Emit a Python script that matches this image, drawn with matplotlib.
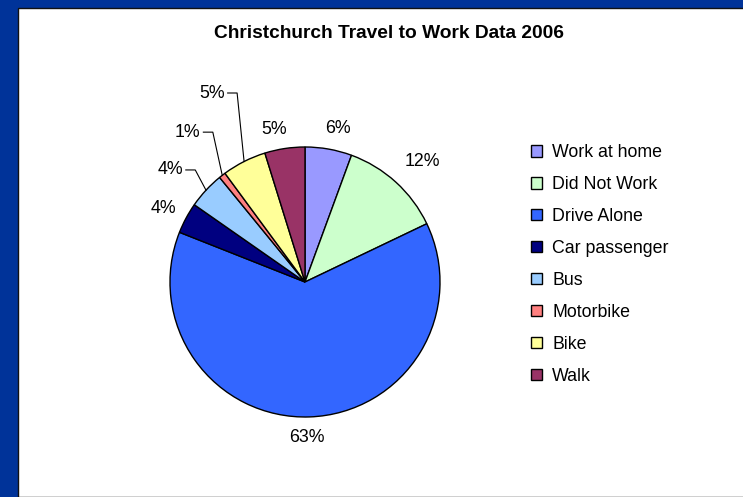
import matplotlib
matplotlib.use("Agg")
import matplotlib.pyplot as plt
from matplotlib.patches import Rectangle
import numpy as np

plt.rcParams["font.family"] = ["Liberation Sans", "DejaVu Sans"]

# data (percent of commuters)
categories = ["Work at home", "Did Not Work", "Drive Alone", "Car passenger",
              "Bus", "Motorbike", "Bike", "Walk"]
shares = [5.6, 12.3, 63.1, 3.7, 4.4, 0.8, 5.3, 4.8]
colors = ["#9999FF", "#CCFFCC", "#3366FF", "#000080",
          "#99CCFF", "#FF8080", "#FFFF99", "#993366"]
title = "Christchurch Travel to Work Data 2006"

# label placement, in pie radii from the centre (x, y); leader lines for the thin ones
label_pos = [(0.245, 1.14), (0.87, 0.89), (0.015, -1.15), (-1.048, 0.548),
             (-1.0, 0.83), (-0.87, 1.11), (-0.69, 1.40), (-0.226, 1.133)]
leader = [False, False, False, False, True, True, True, False]

W, H = 743, 497
R = 135.0          # pie radius, px
CX, CY = 305, 282  # pie centre, px from top-left
LIM = 1.5

fig = plt.figure(figsize=(W / 100, H / 100), dpi=100)
fig.patch.set_facecolor("#003399")
fig.patches.append(Rectangle((18 / W, 0), 1, 1 - 8 / H, transform=fig.transFigure,
                             facecolor="white", edgecolor="#111111", linewidth=1.0,
                             zorder=-5))

half = LIM * R
ax = fig.add_axes([(CX - half) / W, (H - CY - half) / H, 2 * half / W, 2 * half / H])
ax.set_zorder(2)

wedges, _ = ax.pie(shares, colors=colors, startangle=90, counterclock=False,
                   radius=1.0, wedgeprops=dict(edgecolor="black", linewidth=1.0))
ax.set_xlim(-LIM, LIM)
ax.set_ylim(-LIM, LIM)
ax.set_aspect("equal")
ax.axis("off")

fig.canvas.draw()
renderer = fig.canvas.get_renderer()
inv = ax.transData.inverted()
for w, val, (lx, ly), lead in zip(wedges, shares, label_pos, leader):
    t = ax.text(lx, ly, f"{val:.0f}%", ha="center", va="center", fontsize=12.8,
                color="black")
    if lead:
        mid = np.deg2rad((w.theta1 + w.theta2) / 2)
        ex, ey = np.cos(mid), np.sin(mid)
        bb = t.get_window_extent(renderer)
        x0 = inv.transform((bb.x1 + 3, 0))[0]
        knee = x0 + 0.07
        ax.plot([x0, knee, ex], [ly, ly, ey], color="black", linewidth=0.8)

fig.text(0.523, 1 - 33 / H, title, ha="center", va="center", fontsize=13.8,
         fontweight="bold", color="black")

leg = fig.legend(wedges, categories, loc="center left",
                 bbox_to_anchor=(531 / W, 1 - 264.5 / H), frameon=False,
                 fontsize=12.8, handlelength=0.6, handleheight=0.6,
                 handletextpad=0.6, labelspacing=0.84, borderpad=0,
                 borderaxespad=0)

fig.savefig("out.png", dpi=100, facecolor=fig.get_facecolor())
